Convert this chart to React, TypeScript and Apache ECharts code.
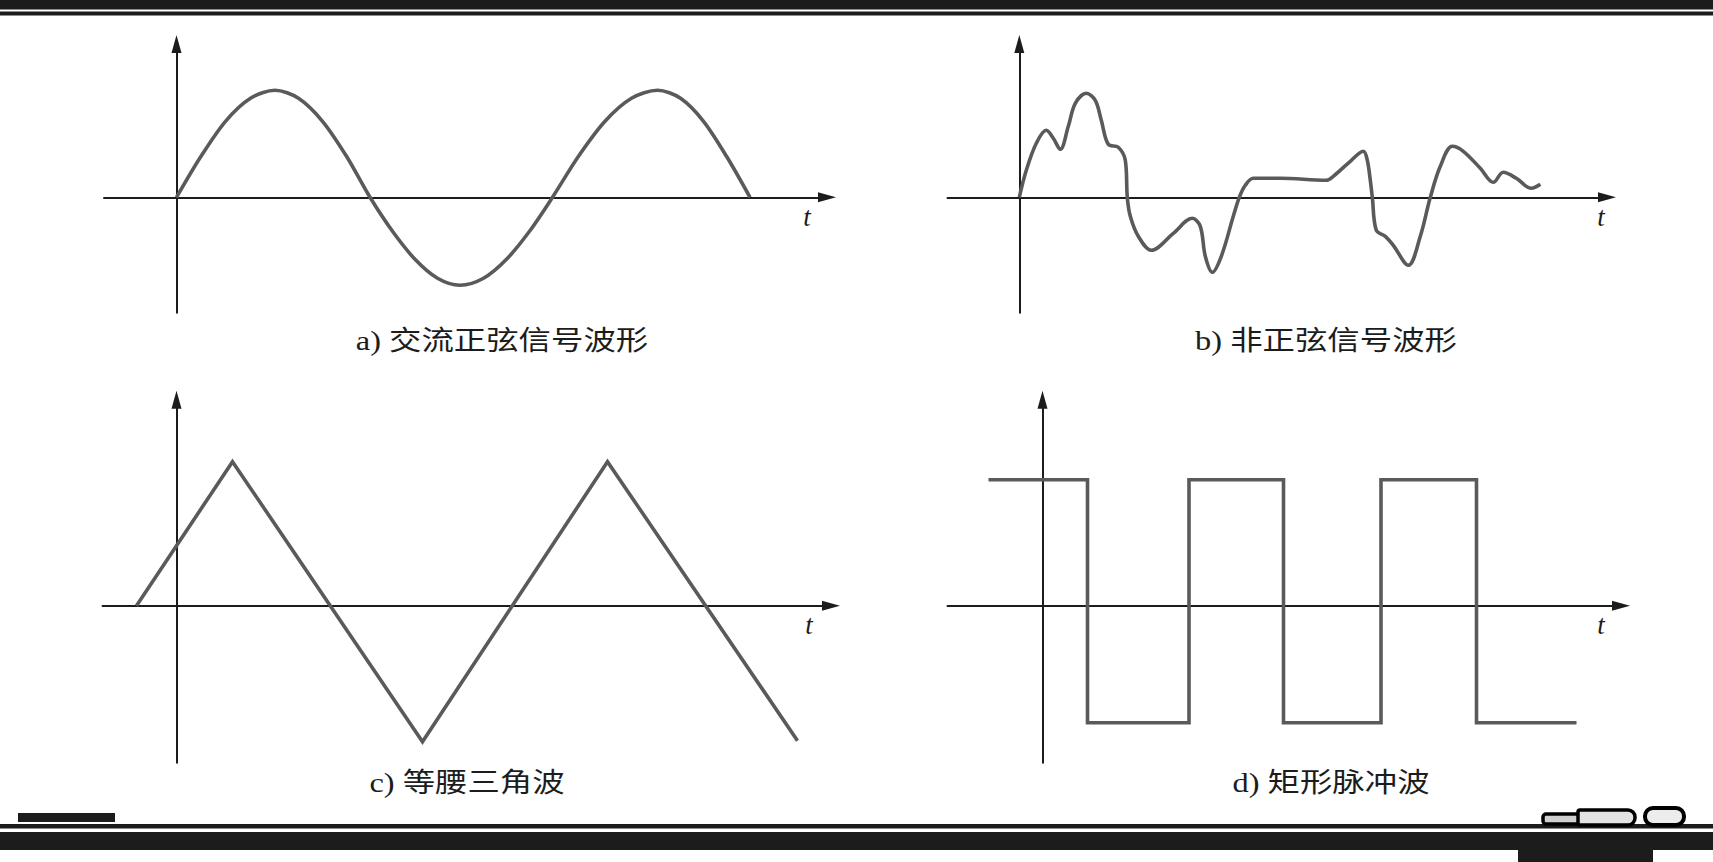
import React, { useEffect, useRef } from 'react';
import * as echarts from 'echarts';

// ---- texts ----
const CAPTIONS = ['a) 交流正弦信号波形', 'b) 非正弦信号波形', 'c) 等腰三角波', 'd) 矩形脉冲波'];
const AXIS_NAME = 't';

// ---- data (time unit ≈ 100 px of the figure, value unit likewise) ----
// a) sine
const SINE_T = [0, 0.245, 0.49, 0.74, 0.985, 1.22, 1.46, 1.7, 1.935, 2.16, 2.385, 2.61, 2.835, 3.07, 3.3, 3.53, 3.76, 4.02, 4.285, 4.55, 4.81, 5.04, 5.27, 5.5, 5.735];
const SINE_V = [0, 0.41, 0.76, 0.99, 1.07, 0.99, 0.76, 0.41, 0, -0.34, -0.62, -0.81, -0.88, -0.81, -0.62, -0.34, 0, 0.41, 0.76, 0.99, 1.07, 0.99, 0.76, 0.41, 0];

// b) non-sine
const NONSINE_T = [0, 0.07, 0.17, 0.27, 0.34, 0.41, 0.49, 0.56, 0.67, 0.76, 0.82, 0.89, 0.99, 1.06, 1.08, 1.11, 1.19, 1.32, 1.54, 1.73, 1.81, 1.86, 1.93, 2.02, 2.14, 2.2, 2.26, 2.34, 2.61, 3.07, 3.14, 3.31, 3.44, 3.48, 3.51, 3.53, 3.57, 3.66, 3.74, 3.89, 4.01, 4.11, 4.21, 4.33, 4.44, 4.61, 4.74, 4.84, 4.97, 5.12, 5.21];
const NONSINE_V = [0, 0.27, 0.54, 0.67, 0.59, 0.48, 0.71, 0.94, 1.04, 0.97, 0.77, 0.53, 0.5, 0.37, 0, -0.19, -0.39, -0.53, -0.36, -0.21, -0.29, -0.59, -0.75, -0.59, -0.19, 0, 0.12, 0.19, 0.19, 0.17, 0.21, 0.36, 0.46, 0.37, 0.17, 0, -0.33, -0.39, -0.48, -0.68, -0.39, 0, 0.31, 0.51, 0.46, 0.29, 0.15, 0.25, 0.19, 0.09, 0.13];

// c) isosceles triangle
const TRI_T = [-0.4, 0.56, 2.46, 4.31, 6.21];
const TRI_V = [0, 1.44, -1.36, 1.44, -1.35];

// d) rectangular pulse
const RECT_T = [-0.54, 0.45, 0.45, 1.465, 1.465, 2.41, 2.41, 3.385, 3.385, 4.34, 4.34, 5.34];
const RECT_V = [1.26, 1.26, -1.17, -1.17, 1.26, 1.26, -1.17, -1.17, 1.26, 1.26, -1.17, -1.17];

// axis ranges per panel
const X_MIN = [-0.725, -0.718, -0.74, -0.95];
const X_MAX = [6.505, 5.877, 6.545, 5.785];
const Y_MIN = [-1.154, -1.154, -1.57, -1.57];
const Y_MAX = [1.533, 1.533, 2.06, 2.06];

const zip = (t: number[], v: number[]) => t.map((x, i) => [x, v[i]]);

const INK = '#1c1c1c';
const WAVE = '#5a5a5a';

export default function App() {
  const ref = useRef<HTMLDivElement>(null);

  useEffect(() => {
    if (!ref.current) return;
    const chart = echarts.init(ref.current, undefined, { renderer: 'svg' });

    const grids = [
      { left: 104, top: 44, width: 723, height: 268.7 },
      { left: 947.5, top: 44, width: 659.5, height: 268.7 },
      { left: 102.5, top: 399.7, width: 728.5, height: 363 },
      { left: 947.5, top: 399.7, width: 673.5, height: 363 },
    ];

    const axisLine = {
      show: true,
      onZero: true,
      symbol: ['none', 'triangle'],
      symbolSize: [10, 18],
      lineStyle: { color: INK, width: 2 },
    };

    const xAxis = grids.map((_, i) => ({
      type: 'value',
      gridIndex: i,
      min: X_MIN[i],
      max: X_MAX[i],
      axisLine,
      axisTick: { show: false },
      axisLabel: { show: false },
      splitLine: { show: false },
    }));
    const yAxis = grids.map((_, i) => ({
      type: 'value',
      gridIndex: i,
      min: Y_MIN[i],
      max: Y_MAX[i],
      axisLine,
      axisTick: { show: false },
      axisLabel: { show: false },
      splitLine: { show: false },
    }));

    const waveData = [
      zip(SINE_T, SINE_V),
      zip(NONSINE_T, NONSINE_V),
      zip(TRI_T, TRI_V),
      zip(RECT_T, RECT_V),
    ];
    const smooth = [0.3, 0.35, false, false];

    const series = waveData.map((d, i) => ({
      type: 'line',
      xAxisIndex: i,
      yAxisIndex: i,
      data: d,
      smooth: smooth[i],
      showSymbol: false,
      symbol: 'none',
      clip: false,
      lineStyle: { color: WAVE, width: 3.6, join: i >= 2 ? 'miter' : 'round', cap: 'butt' },
    }));

    const tPos = [
      [807, 217],
      [1601, 217],
      [809, 625],
      [1601, 625],
    ];
    const capPos = [
      [502, 340],
      [1326, 340],
      [467, 782],
      [1331, 782],
    ];

    const graphic: any[] = [
      // top rules
      { type: 'rect', shape: { x: 0, y: 0, width: 1713, height: 9.5 }, style: { fill: INK } },
      { type: 'rect', shape: { x: 0, y: 11.5, width: 1713, height: 4 }, style: { fill: INK } },
      // bottom rules
      { type: 'rect', shape: { x: 18, y: 813, width: 97, height: 9 }, style: { fill: INK } },
      { type: 'rect', shape: { x: 0, y: 824, width: 1713, height: 4.5 }, style: { fill: INK } },
      { type: 'rect', shape: { x: 0, y: 832, width: 1713, height: 18 }, style: { fill: INK } },
      { type: 'rect', shape: { x: 1518, y: 850, width: 135, height: 12 }, style: { fill: INK } },
      // pencil / eraser ornament
      { type: 'rect', shape: { x: 1543, y: 814, width: 38, height: 10, r: 3 }, style: { fill: '#cfcfcf', stroke: '#000', lineWidth: 3.5 } },
      { type: 'rect', shape: { x: 1578, y: 810, width: 57, height: 15, r: [2, 7, 7, 2] }, style: { fill: '#e2e2e2', stroke: '#000', lineWidth: 3.5 } },
      { type: 'rect', shape: { x: 1645, y: 808, width: 39, height: 17, r: 8 }, style: { fill: '#ececec', stroke: '#000', lineWidth: 4 } },
    ];

    tPos.forEach(([x, y]) => {
      graphic.push({
        type: 'text',
        x,
        y,
        style: {
          text: AXIS_NAME,
          fontSize: 27,
          fontStyle: 'italic',
          fontFamily: '"Liberation Serif", "DejaVu Serif", serif',
          fill: INK,
          align: 'center',
          verticalAlign: 'middle',
        },
      });
    });

    capPos.forEach(([x, y], i) => {
      graphic.push({
        type: 'text',
        x,
        y,
        scaleX: 1.2,
        style: {
          text: CAPTIONS[i],
          fontSize: 27,
          fontFamily: '"Liberation Serif", "Noto Sans CJK SC", serif',
          fill: INK,
          align: 'center',
          verticalAlign: 'middle',
        },
      });
    });

    chart.setOption({
      animation: false,
      backgroundColor: '#ffffff',
      grid: grids.map((g) => ({ ...g, containLabel: false })),
      xAxis,
      yAxis,
      series,
      graphic,
    });

    return () => chart.dispose();
  }, []);

  return (
    <div
      ref={ref}
      style={{ position: 'fixed', left: 0, top: 0, width: 1713, height: 862, background: '#fff' }}
    />
  );
}
